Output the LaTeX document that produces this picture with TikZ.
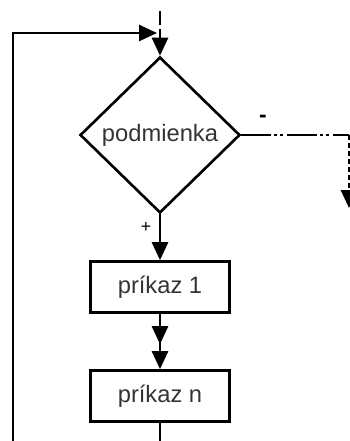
\documentclass[tikz,border=0pt]{standalone}
\usepackage{fontspec}
\setmainfont{Liberation Sans}
\usetikzlibrary{shapes.geometric,arrows.meta}

\begin{document}
	\begin{tikzpicture}[x=0.02cm, y=-0.02cm, line width=1.5pt,
		tip/.style={-{Triangle[length=0.36cm,width=0.32cm]}},
		cond/.style={diamond, draw, inner sep=0pt, minimum width=3.2cm, minimum height=3.12cm, font=\fontsize{13.5}{15}\selectfont, text=black!80},
		cmd/.style={rectangle, draw, minimum width=2.78cm, minimum height=1.02cm, font=\fontsize{13.5}{15}\selectfont, text=black!80},
		lbl/.style={inner sep=0pt, font=\fontsize{10}{11}\selectfont}]
		\useasboundingbox (0,0) rectangle (350,441);
		\clip (0,0) rectangle (350,441);

		\node[cond] (podm) at (160,135) {podmienka};
		\node[cmd] (prik1) at (160,287) {príkaz 1};
		\node[cmd] (prikn) at (160,396) {príkaz n};

		\node[lbl, font=\fontsize{13}{15}\selectfont\bfseries] (minus) at (263,119) {-};
		\node[lbl] (plus) at (146,227) {+};

		\coordinate (in) at (160,11);
		\coordinate (back) at (157,33);
		\coordinate (corner) at (349,135);
		\coordinate (out) at (349,208);

		\draw[tip, dash pattern=on 0.28cm off 0.08cm] (in) -- (podm.north);
		\draw[dash pattern=on 0.6cm off 0.06cm on 0.06cm off 0.06cm on 0.06cm off 0.08cm] (podm.east) -- (corner);
		\draw[tip, dash pattern=on 0.1cm off 0.06cm] (corner) -- (out);
		\draw[tip] (podm.south) -- (prik1.north);
		\draw[-{Triangle[length=0.36cm,width=0.32cm,sep=0.14cm] Triangle[length=0.36cm,width=0.32cm]}] (prik1.south) -- (prikn.north);
		\draw[tip] (prikn.south) -- (160,460) -| (13,300) |- (back);
	\end{tikzpicture}
\end{document}
